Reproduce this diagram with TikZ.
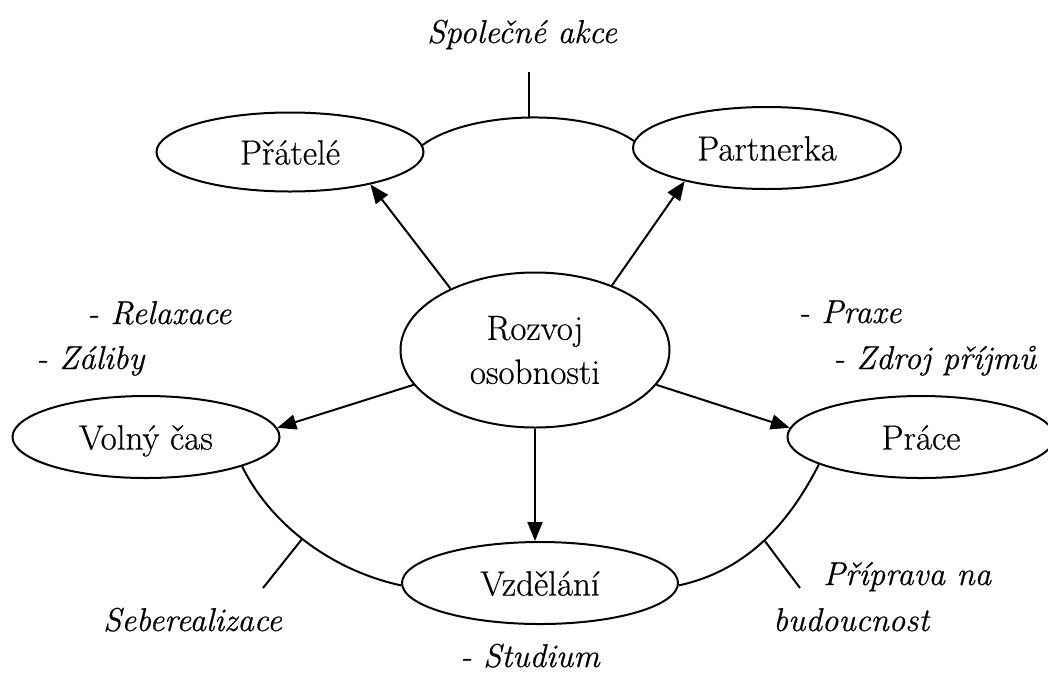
\documentclass[tikz,border=0pt]{standalone}
\usepackage{fontspec}
\setmainfont{Latin Modern Roman}[FakeBold=0.5]
\usetikzlibrary{shapes.geometric,arrows.meta}
\begin{document}
\begin{tikzpicture}[x=1pt,y=-1pt,
  every node/.style={font=\fontsize{35}{44}\selectfont},
  ovalbase/.style={draw, ellipse, line width=2pt, inner sep=0pt},
  oval/.style={ovalbase, text height=33pt, text depth=8pt},
  lbl/.style={inner sep=0pt, anchor=base west, font=\fontsize{33}{43}\selectfont\itshape},
  conn/.style={line width=2pt},
  arr/.style={line width=2pt, -{Triangle[length=19pt,width=15pt]}}]
\useasboundingbox (0,0) rectangle (1048,678);

\node[oval, minimum width=267pt, minimum height=79pt] (pri) at (290,152) {Přátelé};
\node[oval, minimum width=268pt, minimum height=82pt] (par) at (767,148) {Partnerka};
\node[ovalbase, minimum width=269pt, minimum height=155pt, align=center] (roz) at (535,350) {Rozvoj\\osobnosti};
\node[oval, minimum width=267pt, minimum height=82pt] (vol) at (146,437) {Volný čas};
\node[oval, minimum width=267pt, minimum height=82pt] (prc) at (921,437) {Práce};
\node[oval, minimum width=276pt, minimum height=82pt] (vzd) at (540,583) {Vzdělání};

\draw[arr] (roz.144) -- (pri.-22);
\draw[arr] (roz.40) -- (par.202);
\draw[arr] (roz.196) -- (vol.4);
\draw[arr] (roz.-16) -- (prc.176);
\draw[arr] (roz.south) -- (roz.south |- vzd.north);

\coordinate (topt) at (529,72);
\coordinate (ltk) at (263,588);
\coordinate (rtk) at (800,588);

\draw[conn] (pri.3) .. controls (470,110) and (588,108) .. coordinate[pos=0.5] (topm) (par.177);
\draw[conn] (topm) -- (topm |- topt);
\draw[conn] (vol.-17) .. controls (270,523) and (330,570) .. coordinate[pos=0.48] (lm) (vzd.181);
\draw[conn] (lm) -- (ltk);
\draw[conn] (prc.195) .. controls (790,521) and (749,570) .. coordinate[pos=0.5] (rm) (vzd.-1);
\draw[conn] (rm) -- (rtk);

\node[lbl] (spol) at (427,43) {Společné akce};
\node[lbl] (rel) at (87,324) {- Relaxace};
\node[lbl] (zal) at (36,369) {- Záliby};
\node[lbl] (prax) at (798,323) {- Praxe};
\node[lbl] (zdroj) at (833,369) {- Zdroj příjmů};
\node[lbl] (seb) at (103,631) {Seberealizace};
\node[lbl] (pprav) at (823,585) {Příprava na};
\node[lbl] (bud) at (773,631) {budoucnost};
\node[lbl] (stud) at (460,667) {- Studium};
\end{tikzpicture}
\end{document}
